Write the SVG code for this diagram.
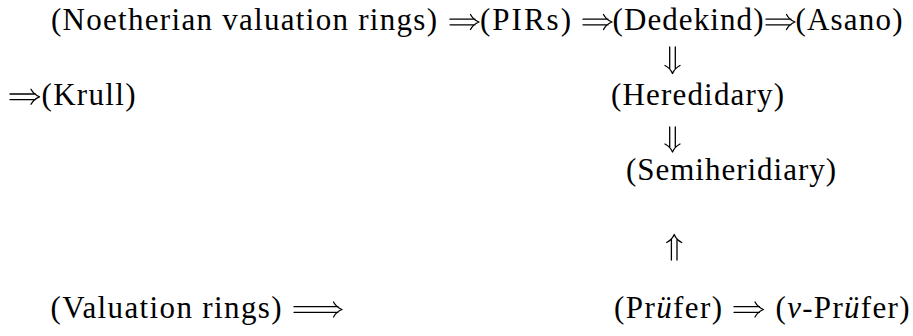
<svg xmlns="http://www.w3.org/2000/svg" width="913" height="336" viewBox="0 0 913 336">
<style>
  text { font-family: "Liberation Serif", "Times New Roman", serif; font-size: 31px; fill: #000; }
  .it { font-style: italic; }
  .arr { fill: none; stroke: #000; stroke-width: 1.3; stroke-linecap: round; stroke-linejoin: round; }
</style>
<rect width="913" height="336" fill="#fff"/>
<g id="noetherian"><text x="51" y="29.5" textLength="386" lengthAdjust="spacing">(Noetherian valuation rings)</text></g>
<g id="pirs"><text x="480" y="29.5" textLength="91" lengthAdjust="spacing">(PIRs)</text></g>
<g id="dedekind"><text x="612.5" y="29.5" textLength="151" lengthAdjust="spacing">(Dedekind)</text></g>
<g id="asano"><text x="795.5" y="29.5" textLength="107" lengthAdjust="spacing">(Asano)</text></g>
<g id="krull"><text x="41.5" y="105" textLength="94" lengthAdjust="spacing">(Krull)</text></g>
<g id="hereditary"><text x="611" y="105" textLength="173" lengthAdjust="spacing">(Heredidary)</text></g>
<g id="semihereditary"><text x="626" y="179.5" textLength="210" lengthAdjust="spacing">(Semiheridiary)</text></g>
<g id="valuation"><text x="50.5" y="318" textLength="231" lengthAdjust="spacing">(Valuation rings)</text></g>
<g id="prufer"><text x="614" y="318" textLength="108" lengthAdjust="spacing">(Pr<tspan class="it">ü</tspan>fer)</text></g>
<g id="vprufer"><text x="775.5" y="318" textLength="134" lengthAdjust="spacing">(<tspan class="it">v</tspan>-Pr<tspan class="it">ü</tspan>fer)</text></g>
<g id="connectors" class="arr">
  <!-- row 1 -->
  <path d="M450,19.2 H475 M450,24.8 H475 M470.5,14.5 Q473.5,20 479,22 Q473.5,24 470.5,29.5"/>
  <path d="M583,19.2 H608 M583,24.8 H608 M603.5,14.5 Q606.5,20 612,22 Q606.5,24 603.5,29.5"/>
  <path d="M766,19.2 H791 M766,24.8 H791 M786.5,14.5 Q789.5,20 795,22 Q789.5,24 786.5,29.5"/>
  <!-- to Krull -->
  <path d="M10,94 H35.5 M10,99.6 H35.5 M31,89.3 Q34,94.8 39.5,96.8 Q34,98.8 31,104.3"/>
  <!-- down arrows -->
  <path d="M669.7,47 V69 M675.3,47 V69 M665,65.5 Q670.5,68.5 672.5,73.5 Q674.5,68.5 680,65.5"/>
  <path d="M669.7,127 V147.5 M675.3,127 V147.5 M665,144 Q670.5,147 672.5,152 Q674.5,147 680,144"/>
  <!-- up arrow -->
  <path d="M671.4,260 V239 M677,260 V239 M666.7,242.5 Q672.2,239.5 674.2,234.5 Q676.2,239.5 681.7,242.5"/>
  <!-- long arrow -->
  <path d="M294,306.7 H338 M294,312.3 H338 M333.5,302 Q336.5,307.5 342,309.5 Q336.5,311.5 333.5,317"/>
  <!-- Prufer to v-Prufer -->
  <path d="M734,306.7 H759.5 M734,312.3 H759.5 M755,302 Q758,307.5 763.5,309.5 Q758,311.5 755,317"/>
</g>
</svg>
